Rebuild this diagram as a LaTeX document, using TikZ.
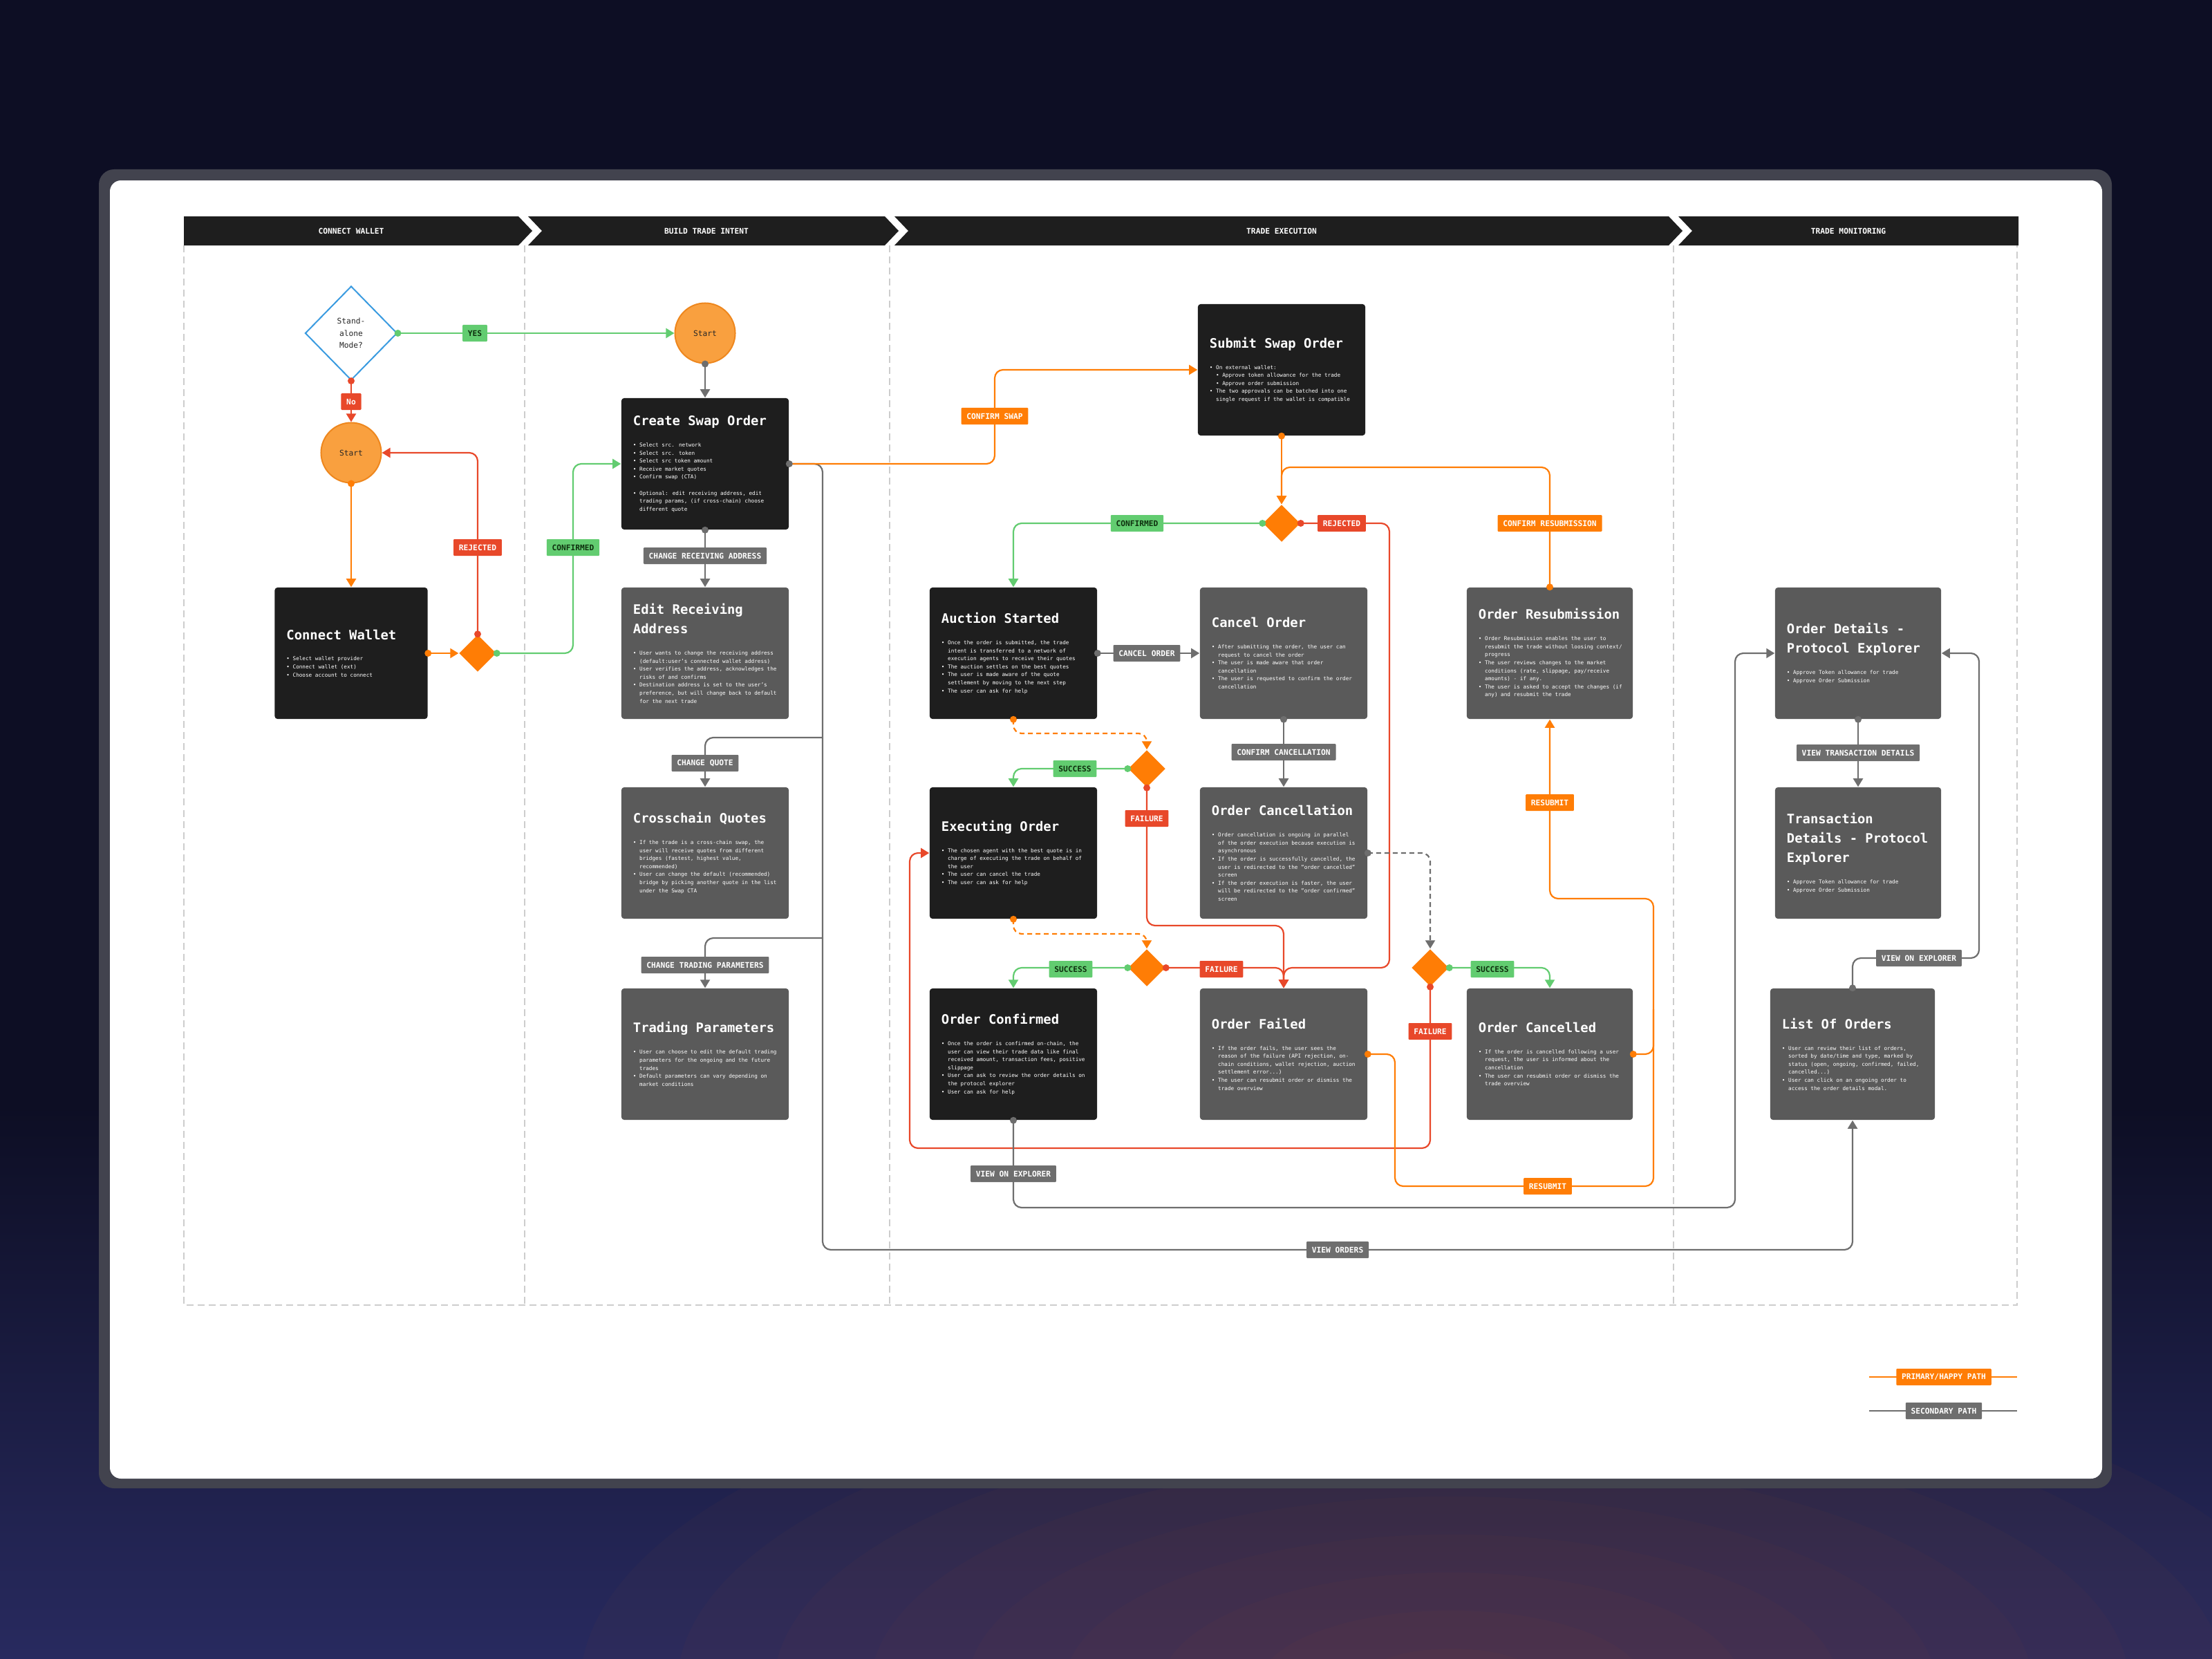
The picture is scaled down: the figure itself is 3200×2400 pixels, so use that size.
\documentclass[tikz,border=0pt]{standalone}
\usepackage{fontspec}
\setmainfont{DejaVu Sans Mono}
\usetikzlibrary{arrows.meta,shapes.geometric}
\definecolor{bgc}{RGB}{13,14,36}
\definecolor{bgb}{RGB}{40,42,95}
\definecolor{glowc}{RGB}{150,80,50}
\definecolor{framec}{RGB}{66,67,78}
\definecolor{hdrc}{RGB}{30,30,30}
\definecolor{darkc}{RGB}{30,30,30}
\definecolor{grayc}{RGB}{90,90,90}
\definecolor{co}{RGB}{255,125,5}
\definecolor{cg}{RGB}{98,204,112}
\definecolor{cgt}{RGB}{14,48,14}
\definecolor{cr}{RGB}{232,72,42}
\definecolor{cy}{RGB}{110,110,110}
\definecolor{colc}{RGB}{205,205,205}
\definecolor{bluec}{RGB}{58,155,224}
\definecolor{startc}{RGB}{249,160,63}
\definecolor{startb}{RGB}{238,135,30}
\newcommand\ttl{\bfseries\fontsize{5.36pt}{8.06pt}\selectfont}
\newcommand\bdy{\fontsize{2.18pt}{3.3pt}\selectfont}
\newcommand\lblf{\bfseries\fontsize{3.2pt}{3.8pt}\selectfont}
\newcommand\smf{\fontsize{3.2pt}{4.9pt}\selectfont}
\newcommand\bpt{\makebox[1.2em][l]{•}}
\newcommand\ind{\hspace*{1.2em}}
\tikzset{
  card/.style={rectangle, rounded corners=0.04cm, minimum height=1.90cm, inner sep=0pt, draw=none},
  cardtxt/.style={anchor=west, inner sep=0pt, text width=2.3cm, align=flush left, text=white},
  con/.style={line width=0.022cm, rounded corners=0.12cm},
  arr/.style={-{Triangle[length=0.12cm,width=0.14cm]}},
  dsh/.style={dash pattern=on 0.07cm off 0.05cm},
  odia/.style={diamond, fill=co, draw=none, minimum width=0.54cm, minimum height=0.54cm, inner sep=0pt},
  lab/.style={font=\lblf, inner xsep=2.2pt, inner ysep=0pt, minimum height=0.24cm, rounded corners=0.3pt, text=white},
  labg/.style={lab, fill=cy},
  labo/.style={lab, fill=co},
  labr/.style={lab, fill=cr},
  labgr/.style={lab, fill=cg, text=cgt},
  hdrtxt/.style={font=\lblf, text=white, inner sep=0pt},
  startn/.style={circle, fill=startc, draw=startb, line width=0.02cm, minimum size=0.87cm, inner sep=0pt, font=\smf, text=black!85},
  colline/.style={colc, line width=0.015cm, dash pattern=on 0.1cm off 0.06cm}
}
\newcommand\mkcard[7]{%
  \node[card, fill=#4, minimum width=#5cm] (#1) at (#2,#3) {};
  \node[cardtxt] at ([xshift=0.17cm]#1.west) {\spaceskip=0pt\xspaceskip=0pt\rightskip=0pt plus 1fil\relax{\ttl #6\par}\vspace{5.5pt}{\bdy #7\par}};
}
\begin{document}
\begin{tikzpicture}[x=0.01cm, y=-0.01cm]
\useasboundingbox (0,0) rectangle (3200,2400);
% background
\fill[bgc] (0,0) rectangle (3200,2400);
\shade[top color=bgc, bottom color=bgb] (0,1600) rectangle (3200,2400);
\foreach \r in {1,...,9} \fill[glowc, opacity=0.05] (2100,2440) ellipse ({\r*1.4cm} and {\r*0.55cm});
% frame
\fill[framec, rounded corners=0.22cm] (143,245) rectangle (3055,2153);
\fill[white, rounded corners=0.16cm] (159,261) rectangle (3041,2139);
% columns
\draw[colline] (266,355) -- (266,1888) -- (2918,1888) -- (2918,355);
\draw[colline] (759,355) -- (759,1888);
\draw[colline] (1287,355) -- (1287,1888);
\draw[colline] (2421,355) -- (2421,1888);
% header
\fill[hdrc] (266,313) -- (750,313) -- (770,334) -- (750,355) -- (266,355) -- cycle;
\fill[hdrc] (764,313) -- (1280,313) -- (1300,334) -- (1280,355) -- (764,355) -- (784,334) -- cycle;
\fill[hdrc] (1294,313) -- (2414,313) -- (2434,334) -- (2414,355) -- (1294,355) -- (1314,334) -- cycle;
\fill[hdrc] (2428,313) -- (2920,313) -- (2920,355) -- (2428,355) -- (2448,334) -- cycle;
\node[hdrtxt] (h1) at (508,334) {CONNECT WALLET};
\node[hdrtxt] (h2) at (1022,334) {BUILD TRADE INTENT};
\node[hdrtxt] (h3) at (1854,334) {TRADE EXECUTION};
\node[hdrtxt] (h4) at (2674,334) {TRADE MONITORING};

% ---------- nodes
\node[diamond, draw=bluec, fill=white, line width=0.02cm, minimum width=1.33cm, minimum height=1.36cm, inner sep=0pt, align=center, font=\smf, text=black!85] (sa) at (508,482) {Stand-\\alone\\Mode?};
\node[startn] (startc) at (508,655) {Start};
\node[startn] (startb) at (1020,482) {Start};
\node[odia] (dcw) at (691,945) {};
\node[odia] (d1) at (1854,757) {};
\node[odia] (d2) at (1659,1112) {};
\node[odia] (d3) at (1659,1400) {};
\node[odia] (d4) at (2069,1400) {};

\mkcard{cw}{508}{945}{darkc}{2.21}{Connect Wallet}{\bpt Select wallet provider\\\bpt Connect wallet (ext)\\\bpt Choose account to connect}
\mkcard{create}{1020}{671}{darkc}{2.42}{Create Swap Order}{\bpt Select src. network\\\bpt Select src. token\\\bpt Select src token amount\\\bpt Receive market quotes\\\bpt Confirm swap (CTA)\\[3.3pt]\bpt Optional: edit receiving address, edit\\\ind trading params, (if cross-chain) choose\\\ind different quote}
\mkcard{editrecv}{1020}{945}{grayc}{2.42}{Edit Receiving\\Address}{\bpt User wants to change the receiving address\\\ind (default:user's connected wallet address)\\\bpt User verifies the address, acknowledges the\\\ind risks of and confirms\\\bpt Destination address is set to the user's\\\ind preference, but will change back to default\\\ind for the next trade}
\mkcard{quotes}{1020}{1234}{grayc}{2.42}{Crosschain Quotes}{\bpt If the trade is a cross-chain swap, the\\\ind user will receive quotes from different\\\ind bridges (fastest, highest value,\\\ind recommended)\\\bpt User can change the default (recommended)\\\ind bridge by picking another quote in the list\\\ind under the Swap CTA}
\mkcard{params}{1020}{1525}{grayc}{2.42}{Trading Parameters}{\bpt User can choose to edit the default trading\\\ind parameters for the ongoing and the future\\\ind trades\\\bpt Default parameters can vary depending on\\\ind market conditions}
\mkcard{submit}{1854}{535}{darkc}{2.42}{Submit Swap Order}{\bpt On external wallet:\\\ind\bpt Approve token allowance for the trade\\\ind\bpt Approve order submission\\\bpt The two approvals can be batched into one\\\ind single request if the wallet is compatible}
\mkcard{auction}{1466}{945}{darkc}{2.42}{Auction Started}{\bpt Once the order is submitted, the trade\\\ind intent is transferred to a network of\\\ind execution agents to receive their quotes\\\bpt The auction settles on the best quotes\\\bpt The user is made aware of the quote\\\ind settlement by moving to the next step\\\bpt The user can ask for help}
\mkcard{cancel}{1857}{945}{grayc}{2.42}{Cancel Order}{\bpt After submitting the order, the user can\\\ind request to cancel the order\\\bpt The user is made aware that order\\\ind cancellation\\\bpt The user is requested to confirm the order\\\ind cancellation}
\mkcard{executing}{1466}{1234}{darkc}{2.42}{Executing Order}{\bpt The chosen agent with the best quote is in\\\ind charge of executing the trade on behalf of\\\ind the user\\\bpt The user can cancel the trade\\\bpt The user can ask for help}
\mkcard{cancellation}{1857}{1234}{grayc}{2.42}{Order Cancellation}{\bpt Order cancellation is ongoing in parallel\\\ind of the order execution because execution is\\\ind asynchronous\\\bpt If the order is successfully cancelled, the\\\ind user is redirected to the "order cancelled"\\\ind screen\\\bpt If the order execution is faster, the user\\\ind will be redirected to the "order confirmed"\\\ind screen}
\mkcard{confirmed}{1466}{1525}{darkc}{2.42}{Order Confirmed}{\bpt Once the order is confirmed on-chain, the\\\ind user can view their trade data like final\\\ind received amount, transaction fees, positive\\\ind slippage\\\bpt User can ask to review the order details on\\\ind the protocol explorer\\\bpt User can ask for help}
\mkcard{failed}{1857}{1525}{grayc}{2.42}{Order Failed}{\bpt If the order fails, the user sees the\\\ind reason of the failure (API rejection, on-\\\ind chain conditions, wallet rejection, auction\\\ind settlement error...)\\\bpt The user can resubmit order or dismiss the\\\ind trade overview}
\mkcard{resub}{2242}{945}{grayc}{2.40}{Order Resubmission}{\bpt Order Resubmission enables the user to\\\ind resubmit the trade without loosing context/\\\ind progress\\\bpt The user reviews changes to the market\\\ind conditions (rate, slippage, pay/receive\\\ind amounts) - if any.\\\bpt The user is asked to accept the changes (if\\\ind any) and resubmit the trade}
\mkcard{cancelled}{2242}{1525}{grayc}{2.40}{Order Cancelled}{\bpt If the order is cancelled following a user\\\ind request, the user is informed about the\\\ind cancellation\\\bpt The user can resubmit order or dismiss the\\\ind trade overview}
\mkcard{details}{2688}{945}{grayc}{2.40}{Order Details -\\Protocol Explorer}{\bpt Approve Token allowance for trade\\\bpt Approve Order Submission}
\mkcard{txdetails}{2688}{1234}{grayc}{2.40}{Transaction\\Details - Protocol\\Explorer}{\bpt Approve Token allowance for trade\\\bpt Approve Order Submission}
\mkcard{orders}{2680}{1525}{grayc}{2.38}{List Of Orders}{\bpt User can review their list of orders,\\\ind sorted by date/time and type, marked by\\\ind status (open, ongoing, confirmed, failed,\\\ind cancelled...)\\\bpt User can click on an ongoing order to\\\ind access the order details modal.}

% ---------- connectors
\draw[con,cg,arr] (sa.east) -- (startb.west);
\draw[con,cr,arr] (sa.south) -- (startc.north);
\draw[con,co,arr] (startc.south) -- (cw.north);
\draw[con,co,arr] (cw.east) -- (dcw.west);
\draw[con,cr,arr] (dcw.north) |- (startc.east);
\draw[con,cg,arr] (dcw.east) -- (829,945) |- (create.west);

\draw[con,cy,arr] (startb.south) -- (create.north);
\draw[con,cy,arr] (create.south) -- (editrecv.north);
\draw[con,cy,arr] (create.east) -- (1190,671) -- (1190,1808) -| (orders.south);
\draw[con,cy,arr] (1190,1067) -| (quotes.north);
\draw[con,cy,arr] (1190,1357) -| (params.north);
\draw[con,co,arr] (create.east) -- (1439,671) |- (submit.west);

\draw[con,co,arr] (submit.south) -- (d1.north);
\draw[con,co,arr] (resub.north) |- (1854,676) -- (d1.north);
\draw[con,cg,arr] (d1.west) -| (auction.north);
\draw[con,cr,arr] (d1.east) -- (2010,757) -- (2010,1400) -| (failed.north);
\draw[con,cy,arr] (auction.east) -- (cancel.west);
\draw[con,cy,arr] (cancel.south) -- (cancellation.north);
\draw[con,co,dsh,arr] (auction.south) -- (1466,1061) -| (d2.north);
\draw[con,cg,arr] (d2.west) -| (executing.north);
\draw[con,cr,arr] (d2.south) -- (1659,1339) -| (failed.north);
\draw[con,co,dsh,arr] (executing.south) -- (1466,1351) -| (d3.north);
\draw[con,cg,arr] (d3.west) -| (confirmed.north);
\draw[con,cr,arr] (d3.east) -| (failed.north);
\draw[con,cy,dsh,arr] (cancellation.east) -| (d4.north);
\draw[con,cg,arr] (d4.east) -| (cancelled.north);
\draw[con,cr,arr] (d4.south) -- (2069,1661) -- (1316,1661) |- (executing.west);
\draw[con,co,arr] (failed.east) -- (2018,1525) -- (2018,1716) -- (2392,1716) -- (2392,1300) -| (resub.south);
\draw[con,co] (cancelled.east) -- (2392,1525) -- (2392,1460);
\draw[con,cy,arr] (confirmed.south) -- (1466,1747) -- (2510,1747) |- (details.west);

\draw[con,cy,arr] (details.south) -- (txdetails.north);
\draw[con,cy,arr] (orders.north) |- (2863,1386) |- (details.east);

% legend lines
\coordinate (l1a) at (2704,1992); \coordinate (l1b) at (2918,1992);
\coordinate (l2a) at (2704,2041); \coordinate (l2b) at (2918,2041);
\draw[con,co] (l1a) -- (l1b);
\draw[con,cy] (l2a) -- (l2b);

% ---------- dots
\foreach \p in {sa.east, dcw.east, d1.west, d2.west, d3.west, d4.east} \fill[cg] (\p) circle (0.05cm);
\foreach \p in {sa.south, dcw.north, d1.east, d2.south, d3.east, d4.south} \fill[cr] (\p) circle (0.05cm);
\foreach \p in {startc.south, cw.east, submit.south, resub.north, auction.south, executing.south, failed.east, cancelled.east} \fill[co] (\p) circle (0.05cm);
\foreach \p in {startb.south, create.south, create.east, auction.east, cancel.south, cancellation.east, confirmed.south, details.south, orders.north} \fill[cy] (\p) circle (0.05cm);

% ---------- labels
\node[labgr] (lyes) at (687,482) {YES};
\node[labr] (lno) at (508,581) {No};
\node[labr] (lrej1) at (691,792) {REJECTED};
\node[labgr] (lconf1) at (829,792) {CONFIRMED};
\node[labg] (lcra) at (1020,804) {CHANGE RECEIVING ADDRESS};
\node[labg] (lcq) at (1020,1104) {CHANGE QUOTE};
\node[labg] (lctp) at (1020,1396) {CHANGE TRADING PARAMETERS};
\node[labo] (lcs) at (1439,602) {CONFIRM SWAP};
\node[labgr] (lconf2) at (1645,757) {CONFIRMED};
\node[labr] (lrej2) at (1941,757) {REJECTED};
\node[labo] (lcr) at (2242,757) {CONFIRM RESUBMISSION};
\node[labg] (lco) at (1659,945) {CANCEL ORDER};
\node[labg] (lcc) at (1857,1088) {CONFIRM CANCELLATION};
\node[labgr] (ls1) at (1555,1112) {SUCCESS};
\node[labr] (lf1) at (1659,1184) {FAILURE};
\node[labgr] (ls2) at (1549,1402) {SUCCESS};
\node[labr] (lf2) at (1767,1402) {FAILURE};
\node[labo] (lrs1) at (2242,1161) {RESUBMIT};
\node[labgr] (ls3) at (2159,1402) {SUCCESS};
\node[labr] (lf3) at (2069,1492) {FAILURE};
\node[labg] (lvoe1) at (1466,1698) {VIEW ON EXPLORER};
\node[labo] (lrs2) at (2239,1716) {RESUBMIT};
\node[labg] (lvo) at (1935,1808) {VIEW ORDERS};
\node[labg] (lvtd) at (2688,1089) {VIEW TRANSACTION DETAILS};
\node[labg] (lvoe2) at (2776,1386) {VIEW ON EXPLORER};
\node[labo] (lpp) at (2812,1992) {PRIMARY/HAPPY PATH};
\node[labg] (lsp) at (2812,2041) {SECONDARY PATH};
\end{tikzpicture}
\end{document}
